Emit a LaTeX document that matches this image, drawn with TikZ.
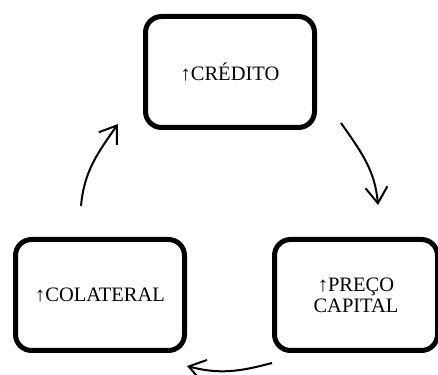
\documentclass[tikz,border=0pt]{standalone}
\usepackage{fontspec}
\setmainfont{Liberation Serif}
\usetikzlibrary{arrows.meta}

\begin{document}
\begin{tikzpicture}[
    x=1pt, y=1pt,
    box/.style={draw, line width=5pt, rounded corners=16pt, minimum width=#1, minimum height=111pt, align=center, font=\fontsize{20.5}{21}\selectfont},
    arrow/.style={-{Straight Barb[length=16pt,width=22pt]}, line width=2pt}
]
    \useasboundingbox (0,0) rectangle (438,374);

    % Boxes
    \node[box=169pt] (credito) at (230,302) {↑CRÉDITO};
    \node[box=163pt] (preco) at (356,79) {↑PREÇO\\CAPITAL};
    \node[box=169pt] (colateral) at (100,79) {↑COLATERAL};

    % Cycle arrows
    \draw[arrow] ([shift={(24,7)}]credito.south east) to[out=-55, in=95] ([shift={(22,32)}]preco.north);
    \draw[arrow] ([yshift=-10pt]preco.south west) to[out=195, in=-15] ([yshift=-13pt]colateral.south east);
    \draw[arrow] ([shift={(-19,31)}]colateral.north) to[out=85, in=-125] ([shift={(-25,6)}]credito.south west);

\end{tikzpicture}
\end{document}
